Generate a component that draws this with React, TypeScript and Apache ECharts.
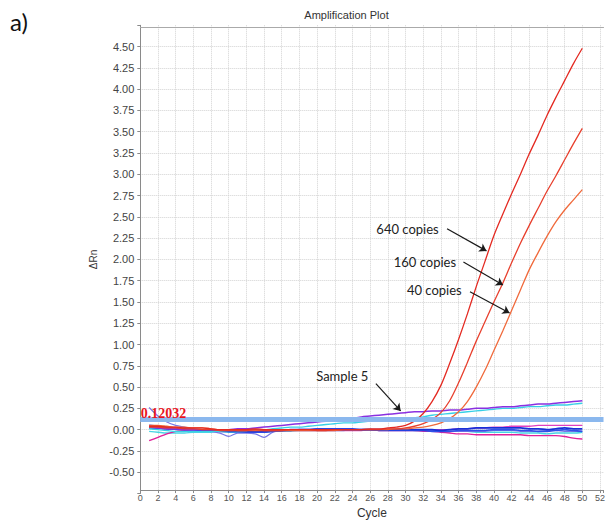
import React, { useEffect, useRef } from "react";
import * as echarts from "echarts";

const cycles = [1,2,3,4,5,6,7,8,9,10,11,12,13,14,15,16,17,18,19,20,21,22,23,24,25,26,27,28,29,30,31,32,33,34,35,36,37,38,39,40,41,42,43,44,45,46,47,48,49,50];

const copies640 = [0.04,0.04,0.03,0.03,0.02,0.02,0.02,0.01,0.0,0.0, 0.0,0.0,0.01,0.0,0.0,0.0,0.0,0.0,0.0,0.0, 0.0,0.0,0.0,0.0,0.0,0.01,0.01,0.02,0.03,0.05, 0.10,0.19,0.33,0.52,0.78,1.06,1.36,1.68,1.98,2.28, 2.53,2.77,3.00,3.24,3.46,3.69,3.90,4.10,4.30,4.48];
const copies160 = [0.03,0.03,0.02,0.02,0.01,0.01,0.0,0.0,-0.01,-0.01, -0.01,-0.01,0.0,-0.01,-0.01,-0.01,0.0,0.0,0.0,-0.01, -0.01,0.0,0.0,0.0,0.0,0.0,0.0,0.01,0.01,0.02, 0.04,0.07,0.12,0.20,0.34,0.55,0.79,1.04,1.27,1.50, 1.72,1.96,2.19,2.40,2.60,2.80,2.98,3.17,3.36,3.54];
const copies40 = [0.05,0.05,0.04,0.03,0.03,0.02,0.02,0.01,0.0,0.0, -0.01,-0.01,-0.01,-0.01,-0.01,-0.01,-0.01,-0.01,-0.01,-0.01, -0.01,-0.01,0.0,0.0,0.0,0.0,0.0,0.0,0.01,0.01, 0.02,0.03,0.05,0.08,0.13,0.21,0.33,0.50,0.70,0.93, 1.16,1.40,1.64,1.88,2.08,2.27,2.44,2.58,2.70,2.82];
const sample5 = [0.03,0.02,0.01,0.01,0.0,0.0,0.0,0.0,0.0,0.0, 0.01,0.01,0.02,0.03,0.04,0.05,0.06,0.07,0.08,0.09, 0.10,0.11,0.12,0.13,0.15,0.16,0.17,0.18,0.19,0.20, 0.21,0.21,0.22,0.22,0.23,0.23,0.24,0.25,0.25,0.26, 0.27,0.27,0.28,0.29,0.30,0.30,0.31,0.32,0.33,0.34];
const cyanRise = [0.01,0.0,-0.01,-0.02,-0.02,-0.02,-0.02,-0.02,-0.02,-0.01, -0.01,-0.01,0.0,0.0,0.01,0.02,0.03,0.03,0.04,0.05, 0.06,0.07,0.08,0.08,0.09,0.10,0.11,0.11,0.12,0.13, 0.14,0.15,0.17,0.18,0.19,0.20,0.21,0.22,0.23,0.24, 0.25,0.25,0.26,0.27,0.27,0.28,0.29,0.29,0.30,0.31];
const cyanFlat = [-0.02,-0.03,-0.04,-0.04,-0.04,-0.03,-0.03,-0.03,-0.02,-0.03, -0.03,-0.03,-0.02,-0.03,-0.02,-0.02,-0.02,-0.01,-0.01,-0.01, -0.01,-0.01,-0.01,0.0,0.0,0.0,0.0,0.0,0.0,0.0, -0.01,-0.01,-0.01,-0.02,-0.02,-0.02,-0.02,-0.03,-0.03,-0.03, -0.03,-0.03,-0.04,-0.04,-0.04,-0.05,-0.04,-0.04,-0.04,-0.03];
const blueA = [0.02,0.02,0.01,0.01,0.0,0.0,-0.01,-0.01,-0.02,-0.02, -0.02,-0.02,-0.02,-0.02,-0.01,-0.01,0.0,0.0,0.0,0.0, 0.0,0.0,0.0,0.0,0.0,0.0,0.0,0.0,0.0,0.0, 0.0,0.0,0.0,-0.01,0.0,0.01,0.01,0.02,0.02,0.02, 0.02,0.02,0.02,0.01,0.01,0.0,0.01,0.02,0.01,0.01];
const blueB = [0.05,0.04,0.03,0.02,0.01,0.0,0.0,-0.01,-0.01,-0.02, -0.02,-0.03,-0.03,-0.03,-0.02,-0.01,-0.01,0.0,0.0,0.01, 0.01,0.01,0.01,0.01,0.0,0.0,-0.01,-0.01,-0.01,-0.01, -0.01,-0.01,-0.02,-0.02,-0.02,-0.01,-0.01,-0.01,-0.01,0.0, 0.0,0.0,-0.01,-0.01,-0.02,-0.02,-0.01,0.0,-0.01,-0.02];
const lavender = [0.26,0.16,0.09,0.05,0.03,0.01,0.0,-0.02,-0.04,-0.08, -0.04,-0.04,-0.05,-0.09,-0.03,-0.01,0.0,0.0,0.0,0.01, 0.01,0.01,0.0,0.0,0.0,0.0,-0.01,-0.01,-0.01,-0.01, -0.01,-0.01,-0.01,-0.02,-0.02,-0.02,-0.02,-0.02,-0.02,-0.01, -0.01,-0.01,-0.02,-0.02,-0.02,-0.01,-0.01,-0.02,-0.02,-0.02];
const magentaLow = [-0.13,-0.09,-0.05,-0.02,-0.01,0.0,0.0,0.0,0.0,-0.01, -0.01,-0.01,-0.01,0.0,0.0,0.0,0.0,0.0,0.0,0.0, 0.0,0.0,0.0,0.0,0.0,0.0,-0.01,-0.01,-0.01,-0.01, -0.01,-0.02,-0.02,-0.03,-0.04,-0.05,-0.05,-0.06,-0.06,-0.06, -0.06,-0.06,-0.06,-0.07,-0.07,-0.07,-0.07,-0.08,-0.10,-0.11];
const magentaUp = [0.02,0.02,0.01,0.01,0.0,0.0,0.0,0.0,0.0,0.0, 0.0,0.0,0.0,0.0,-0.01,-0.01,-0.01,-0.01,-0.01,-0.01, -0.01,-0.01,-0.01,-0.01,-0.01,0.0,0.0,0.0,0.0,0.0, 0.0,0.0,0.0,0.0,0.0,0.01,0.01,0.02,0.02,0.03, 0.03,0.04,0.04,0.04,0.05,0.05,0.05,0.05,0.05,0.05];

const thresholdValue = 0.12032;
const thresholdLabel = "0.12032";

// annotation arrows: [fromCycle, fromValue, toCycle, toValue]
const arrows = [
  [34.7, 2.36, 39.16, 2.1],
  [36.55, 1.97, 41.03, 1.7],
  [37.29, 1.62, 41.77, 1.37],
  [26.65, 0.54, 29.45, 0.22],
];
// annotation labels anchored at their right end
const annoTexts = ["640 copies", "160 copies", "40 copies", "Sample 5"];
const annoAnchors = [
  [33.75, 2.36],
  [35.72, 1.97],
  [36.36, 1.64],
  [25.8, 0.63],
];

export default function App() {
  const ref = useRef<HTMLDivElement>(null);
  useEffect(() => {
    if (!ref.current) return;
    const chart = echarts.init(ref.current, null, { renderer: "svg" });
    const pair = (arr: number[]) => arr.map((v, i) => [cycles[i], v]);
    const mk = (name: string, arr: number[], color: string, width = 1.3, z = 2) => ({
      type: "line",
      name,
      data: pair(arr),
      symbol: "none",
      showSymbol: false,
      smooth: 0.3,
      silent: true,
      z,
      lineStyle: { color, width },
    });
    const axisColor = "#8a8a8a";
    chart.setOption({
      animation: false,
      backgroundColor: "#ffffff",
      grid: { left: 140.3, right: 0, top: 25.3, bottom: 27.8, containLabel: false },
      xAxis: [
        {
          type: "value",
          min: 0,
          max: 52.4,
          interval: 2,
          position: "bottom",
          offset: -3.5,
          name: "Cycle",
          nameLocation: "middle",
          nameGap: 17,
          nameTextStyle: { fontSize: 12, color: "#333", fontFamily: "Liberation Sans" },
          axisLine: { show: true, onZero: false, lineStyle: { color: axisColor } },
          axisTick: { show: true, length: 3, lineStyle: { color: axisColor } },
          axisLabel: {
            fontSize: 9,
            color: "#555",
            margin: 3,
            fontFamily: "Liberation Sans",
            formatter: (v: number) => (Math.abs(v - Math.round(v)) < 1e-6 ? String(Math.round(v)) : ""),
          },
          splitLine: { show: true, showMinLine: false, showMaxLine: false, lineStyle: { color: "#d2d2d2", type: "dotted" } },
        },
        {
          type: "value",
          min: 0,
          max: 52.4,
          position: "top",
          offset: -1.5,
          axisLine: { show: true, onZero: false, lineStyle: { color: "#aaaaaa" } },
          axisTick: { show: false },
          axisLabel: { show: false },
          splitLine: { show: false },
        },
      ],
      yAxis: {
        type: "value",
        min: -0.75,
        max: 4.75,
        interval: 0.25,
        name: "ΔRn",
        nameLocation: "middle",
        nameGap: 40,
        nameRotate: 90,
        nameTextStyle: { fontSize: 10, color: "#333", fontFamily: "Liberation Sans" },
        axisLine: { show: true, onZero: false, lineStyle: { color: axisColor } },
        axisTick: { show: true, length: 3, lineStyle: { color: axisColor } },
        axisLabel: {
          fontSize: 11,
          color: "#444",
          margin: 6,
          fontFamily: "Liberation Sans",
          formatter: (v: number) => (v < -0.6 || v > 4.6 ? "" : v.toFixed(2)),
        },
        splitLine: { show: true, showMinLine: false, showMaxLine: false, lineStyle: { color: "#d2d2d2", type: "dotted" } },
      },
      series: [
        mk("cyanFlat", cyanFlat, "#48d4e4", 1.4),
        mk("magentaLow", magentaLow, "#e0209a", 1.4),
        mk("magentaUp", magentaUp, "#e040c0", 1.4),
        mk("lavender", lavender, "#7878e6", 1.2),
        mk("blueB", blueB, "#3050e8", 1.6),
        mk("blueA", blueA, "#1830d8", 1.8),
        mk("cyanRise", cyanRise, "#38d0e6", 1.4),
        mk("Sample 5", sample5, "#8a30e0", 1.5),
        mk("40 copies", copies40, "#f06a3c", 1.3, 3),
        mk("160 copies", copies160, "#e8402e", 1.3, 3),
        mk("640 copies", copies640, "#e42a22", 1.3, 3),
        {
          type: "line",
          name: "threshold",
          data: [],
          z: 4,
          silent: true,
          markLine: {
            silent: true,
            symbol: "none",
            label: { show: false },
            lineStyle: { color: "#8bb8ee", width: 5, type: "solid", opacity: 1 },
            emphasis: { disabled: true },
            data: [{ yAxis: thresholdValue }],
          },
        },
        {
          type: "line",
          name: "arrows",
          data: [],
          z: 6,
          silent: true,
          markLine: {
            silent: true,
            symbol: ["none", "arrow"],
            symbolSize: 7,
            label: { show: false },
            lineStyle: { color: "#1a1a1a", width: 1.2, type: "solid" },
            emphasis: { disabled: true },
            data: arrows.map((a) => [{ coord: [a[0], a[1]] }, { coord: [a[2], a[3]] }]),
          },
        },
      ],
    });

    const toPx = (c: number[]) => chart.convertToPixel({ seriesIndex: 0 }, c) as number[];
    const thrPx = toPx([0, thresholdValue]);
    const graphics: any[] = [
      {
        type: "text",
        left: 10,
        top: 9,
        z: 10,
        style: { text: "a)", fontSize: 24, fontFamily: "Lato", fill: "#111" },
      },
      {
        type: "text",
        x: 346.5,
        y: 15,
        z: 10,
        style: { text: "Amplification Plot", fontSize: 11, fontFamily: "Liberation Sans", fill: "#333", textAlign: "center", textVerticalAlign: "middle" },
      },
      {
        type: "text",
        x: thrPx[0] + 0.5,
        y: thrPx[1] + 1.5,
        z: 10,
        style: { text: thresholdLabel, fontSize: 14, fontWeight: "bold", fontFamily: "Liberation Serif", fill: "#e8141e", textAlign: "left", textVerticalAlign: "bottom" },
      },
    ];
    annoTexts.forEach((t, i) => {
      const p = toPx(annoAnchors[i]);
      graphics.push({
        type: "text",
        x: p[0],
        y: p[1],
        z: 10,
        style: { text: t, fontSize: 13, fontFamily: "Lato", fill: "#222", textAlign: "right", textVerticalAlign: "middle" },
      });
    });
    chart.setOption({ graphic: graphics });
    return () => chart.dispose();
  }, []);
  return <div ref={ref} style={{ position: "fixed", left: 0, top: 0, width: 608, height: 524, background: "#fff" }} />;
}
